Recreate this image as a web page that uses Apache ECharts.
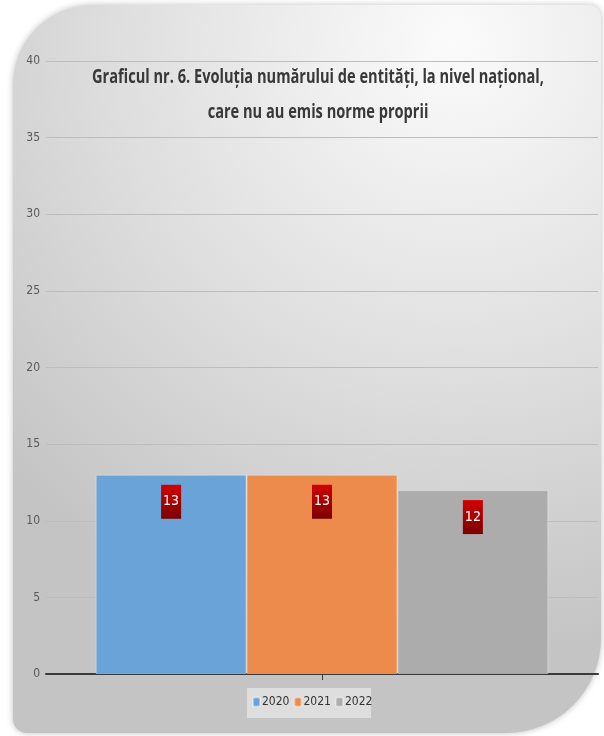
<!DOCTYPE html>
<html>
<head>
<meta charset="utf-8">
<script src="https://cdn.jsdelivr.net/npm/echarts@6/dist/echarts.min.js"></script>
<style>
html,body{margin:0;padding:0;background:#ffffff;}
#c{width:604px;height:736px;}
</style>
</head>
<body>
<div id="c"></div>
<script>
const titleText = 'Graficul nr. 6. Evoluția numărului de entități, la nivel național,\ncare nu au emis norme proprii';
const categories = [''];
const seriesNames = ['2020', '2021', '2022'];
const values2020 = [13];
const values2021 = [13];
const values2022 = [12];
const yTicks = { min: 0, max: 40, interval: 5 };

const colors = ['#6aa3d8', '#ec8b4c', '#acacac'];
const FONT = '"DejaVu Sans Condensed", "Open Sans", sans-serif';
const TFONT = '"Open Sans", sans-serif';

const chart = echarts.init(document.getElementById('c'), null, { renderer: 'canvas' });

const labelCfg = {
  show: true,
  position: 'insideTop',
  distance: 10,
  color: '#ffffff',
  fontFamily: FONT,
  fontSize: 14,
  padding: [10, 2, 10, 2],
  backgroundColor: new echarts.graphic.LinearGradient(0, 0, 0, 1, [
    { offset: 0, color: '#d40000' },
    { offset: 1, color: '#7a0000' }
  ])
};

const valueSets = [values2020, values2021, values2022];
const series = seriesNames.map((name, i) => ({
  name: name,
  type: 'bar',
  data: valueSets[i],
  barGap: '0%',
  barCategoryGap: '18%',
  itemStyle: { color: colors[i], borderColor: 'rgba(255,255,255,0.35)', borderWidth: 1 },
  label: labelCfg,
  z: 3
}));

chart.setOption({
  animation: false,
  graphic: [{
    type: 'rect',
    z: -10,
    shape: { x: 13, y: 5, width: 588, height: 728, r: [80, 12, 95, 14] },
    style: {
      fill: new echarts.graphic.RadialGradient(0.75, 0.05, 1.05, [
        { offset: 0, color: '#fbfbfb' },
        { offset: 0.55, color: '#dedede' },
        { offset: 1, color: '#c4c4c4' }
      ]),
      shadowBlur: 6,
      shadowColor: 'rgba(0,0,0,0.25)'
    },
    silent: true
  }, {
    type: 'rect',
    z: -5,
    shape: { x: 247, y: 688, width: 124, height: 30 },
    style: { fill: 'rgba(240,240,240,0.6)' },
    silent: true
  }, {
    type: 'text',
    z: 10,
    x: 318,
    y: 95,
    scaleX: 0.73,
    style: {
      text: titleText,
      align: 'center',
      verticalAlign: 'middle',
      font: 'bold 20px ' + TFONT,
      fill: '#383838',
      lineHeight: 35
    },
    silent: true
  }],
  legend: {
    data: seriesNames,
    top: 696,
    left: 252,
    padding: 0,
    itemWidth: 7,
    itemHeight: 9,
    itemGap: 4,
    textStyle: { fontFamily: FONT, fontSize: 12, color: '#333333', padding: [0, 0, 0, -3] }
  },
  grid: { left: 46, right: 6, top: 61, bottom: 62, containLabel: false },
  xAxis: {
    type: 'category',
    data: categories,
    axisLine: { lineStyle: { color: '#3a3a3a', width: 2 } },
    axisTick: { show: true, alignWithLabel: true, length: 6, lineStyle: { color: '#3a3a3a' } },
    axisLabel: { show: false }
  },
  yAxis: {
    type: 'value',
    min: yTicks.min,
    max: yTicks.max,
    interval: yTicks.interval,
    axisLine: { show: false },
    axisTick: { show: false },
    axisLabel: { fontFamily: FONT, fontSize: 12, color: '#595959', margin: 6 },
    splitLine: { lineStyle: { color: '#bdbdbd', width: 1 } }
  },
  series: series
});
</script>
</body>
</html>
